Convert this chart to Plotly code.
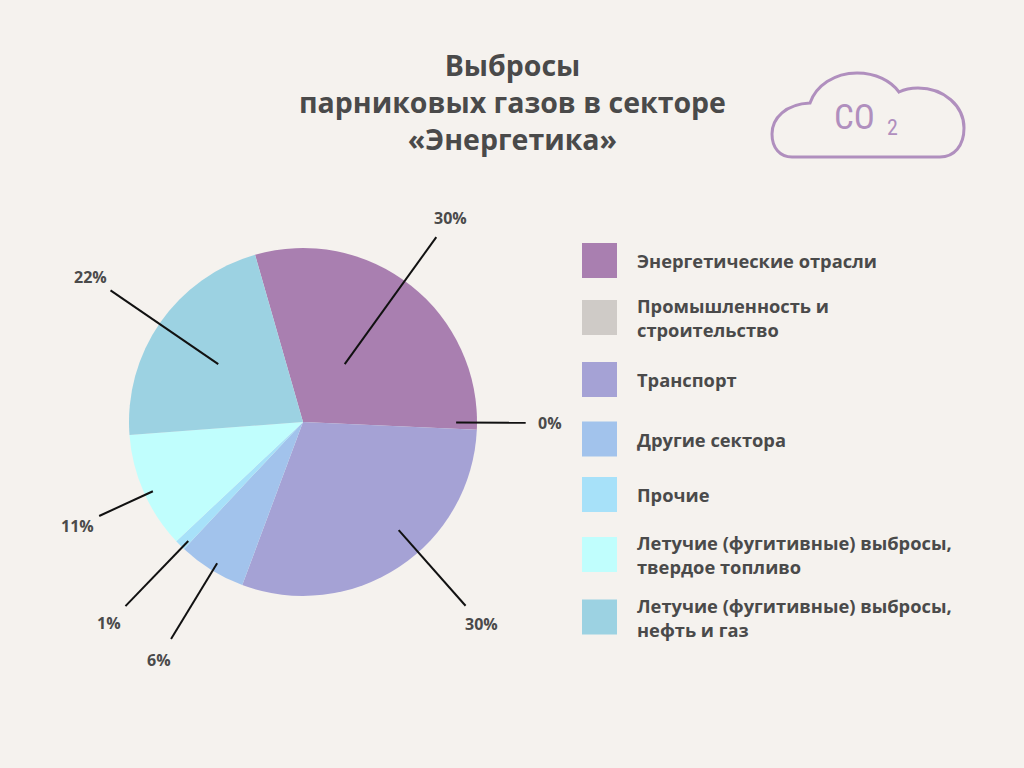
import math
import plotly.graph_objects as go

# данные диаграммы
sectors = [
    "Энергетические отрасли",
    "Промышленность и<br>строительство",
    "Транспорт",
    "Другие сектора",
    "Прочие",
    "Летучие (фугитивные) выбросы,<br>твердое топливо",
    "Летучие (фугитивные) выбросы,<br>нефть и газ",
]
shares = [30.1, 0.0, 29.9, 6.3, 1.0, 10.8, 21.7]
colors = ["#a97fb0", "#cfcbc7", "#a5a2d5", "#a2c3ec", "#a7e1f9", "#c0fefd", "#9cd2e2"]
title = "Выбросы<br>парниковых газов в секторе<br>«Энергетика»"

# геометрия (пиксели холста 1024x768)
W, H = 1024, 768
CX, CY, R = 303, 422, 174
START = -16
# выноски: сдвиг угла (град.), внутр. и внеш. конец в долях радиуса
lead_tilt = [-2.5, -2.4, -8, -0.5, -1, -1, -0.5]
lead_in = [0.41, 0.88, 0.83, 0.95, 0.95, 0.95, 0.59]
lead_out = [1.31, 1.28, 1.41, 1.46, 1.47, 1.29, 1.34]
TEXT_GAP = 24
legend_y = [260.5, 317.5, 379.5, 439, 494.5, 554.5, 617]

TEXT_COLOR = "#4a4a4a"
CLOUD_COLOR = "#b08fbe"


def px(x, y):
    return x / W, 1 - y / H


def label(x, y, text, size, anchor="center", align="left", **font):
    ax, ay = px(x, y)
    return dict(x=ax, y=ay, xref="paper", yref="paper", text=text,
                showarrow=False, xanchor=anchor, yanchor="middle", align=align,
                font=dict(family="Open Sans", size=size, color=TEXT_COLOR, weight=700) | font)


fig = go.Figure()
fig.add_trace(go.Pie(
    labels=[s.replace("<br>", " ") for s in sectors],
    values=shares,
    marker=dict(colors=colors, line=dict(width=0)),
    sort=False,
    direction="clockwise",
    rotation=START,
    textinfo="none",
    hoverinfo="label+percent",
    showlegend=False,
    domain=dict(x=[(CX - R) / W, (CX + R) / W], y=[1 - (CY + R) / H, 1 - (CY - R) / H]),
))

shapes = []
annotations = []

# выноски с процентами
total = sum(shares)
angle = START
for i, v in enumerate(shares):
    span = v / total * 360
    mid = math.radians(angle + span / 2 + lead_tilt[i])
    angle += span
    s, c = math.sin(mid), math.cos(mid)
    x0, y0 = px(CX + R * lead_in[i] * s, CY - R * lead_in[i] * c)
    x1, y1 = px(CX + R * lead_out[i] * s, CY - R * lead_out[i] * c)
    shapes.append(dict(type="line", xref="paper", yref="paper",
                       x0=x0, y0=y0, x1=x1, y1=y1,
                       line=dict(color="#111111", width=2)))
    rt = R * lead_out[i] + TEXT_GAP
    annotations.append(label(CX + rt * s, CY - rt * c,
                             "{:.0f}%".format(v / total * 100), 16))

# легенда
for i, name in enumerate(sectors):
    yc = legend_y[i]
    x0, y0 = px(582, yc + 17.5)
    x1, y1 = px(617, yc - 17.5)
    shapes.append(dict(type="rect", xref="paper", yref="paper",
                       x0=x0, y0=y0, x1=x1, y1=y1,
                       fillcolor=colors[i], line=dict(width=0)))
    annotations.append(label(635, yc, name, 18.3, anchor="left"))

# заголовок
annotations.append(label(512, 102.5, title, 28.5, align="center"))

# облако CO2
cloud = [
    ("M", [(792, 157)]),
    ("C", [(780, 157), (772, 148), (772, 134)]),
    ("C", [(772, 118), (786, 104), (810, 103)]),
    ("C", [(816, 86), (834, 73), (857, 73)]),
    ("C", [(876, 73), (891, 81), (899, 92)]),
    ("C", [(905, 89), (911, 88), (918, 88)]),
    ("C", [(944, 88), (964, 106), (964, 128)]),
    ("C", [(964, 146), (954, 157), (940, 157)]),
    ("L", [(792, 157)]),
]
path = ""
for cmd, pts in cloud:
    path += cmd + " " + " ".join("{:.5f},{:.5f}".format(*px(x, y)) for x, y in pts) + " "
path += "Z"
shapes.append(dict(type="path", xref="paper", yref="paper", path=path,
                   line=dict(color=CLOUD_COLOR, width=3)))
co2_font = dict(family="Roboto Condensed, Roboto", color=CLOUD_COLOR, weight=400)
annotations.append(label(854, 117, "CO", 35, **co2_font))
annotations.append(label(892, 127, "2", 22, **co2_font))

fig.update_layout(
    width=W,
    height=H,
    margin=dict(l=0, r=0, t=0, b=0),
    paper_bgcolor="#f5f2ee",
    plot_bgcolor="#f5f2ee",
    shapes=shapes,
    annotations=annotations,
)

fig.write_html("out.html", config={"displayModeBar": False},
               post_script="document.body.style.margin='0';")
